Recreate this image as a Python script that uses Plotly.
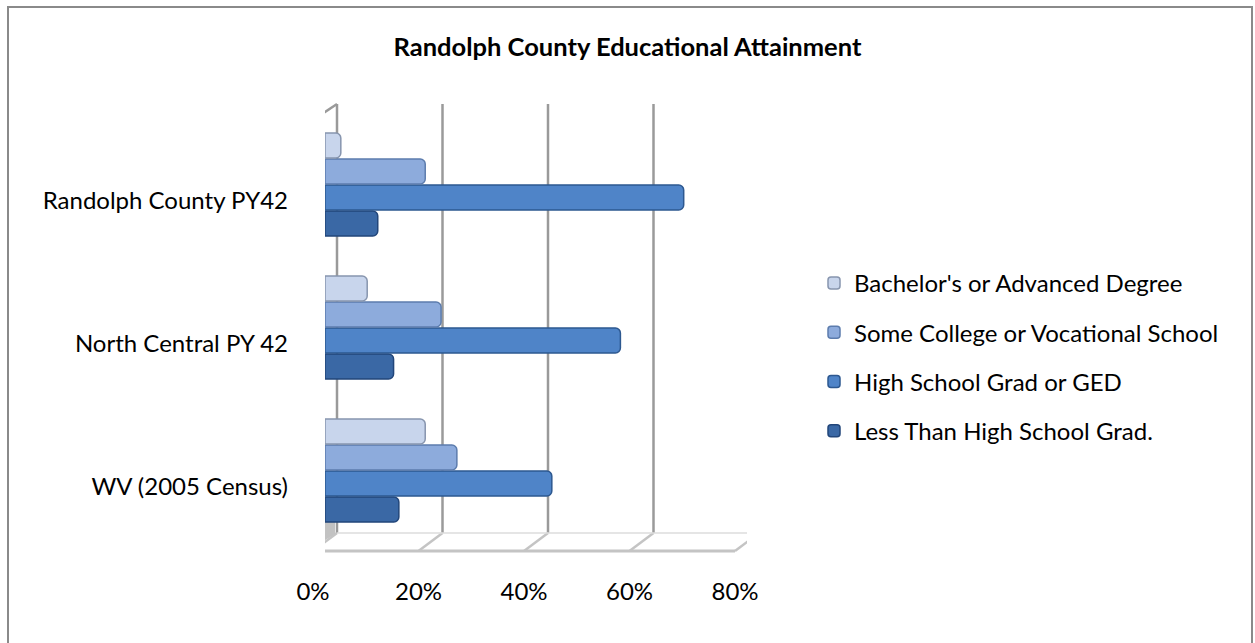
import plotly.graph_objects as go

# Educational attainment shares by area (bottom-to-top category order)
areas = ["WV (2005 Census)", "North Central PY 42", "Randolph County PY42"]
less_than_hs = [0.14, 0.13, 0.10]
hs_grad = [0.43, 0.56, 0.68]
some_college = [0.25, 0.22, 0.19]
bachelors = [0.19, 0.08, 0.03]

tick_vals = [0, 0.2, 0.4, 0.6, 0.8]
tick_text = ["0%", "20%", "40%", "60%", "80%"]

W, H = 1255, 643
FONT = "Lato"
FS = 24


def px_x(p):
    return p / W


def px_y(p):
    return 1 - p / H


# (name, values, fill, edge, legend rank)
series = [
    ("Less Than High School Grad.", less_than_hs, "#3a68a5", "#22467a", 4),
    ("High School Grad or GED", hs_grad, "#4f84c8", "#2d5890", 3),
    ("Some College or Vocational School", some_college, "#8dabdc", "#5c7cad", 2),
    ("Bachelor's or Advanced Degree", bachelors, "#c8d5ec", "#8795ae", 1),
]

fig = go.Figure()
for name, vals, fill, edge, rank in series:
    fig.add_trace(go.Bar(
        y=areas, x=vals, name=name, orientation="h",
        legendgroup=name, legendrank=rank,
        marker=dict(color=fill, line=dict(color=edge, width=1.5), cornerradius=5),
    ))

# depth offset of the back wall, in pixels
D = 12
grid_col = "#9a9a9a"
front_col = "#c4c4c4"
shapes = []
for v in tick_vals:
    # back wall gridline
    shapes.append(dict(type="line", xref="x", xsizemode="pixel", xanchor=v,
                       x0=D, x1=D, yref="paper", y0=px_y(533), y1=px_y(104),
                       line=dict(color=grid_col, width=2.5), layer="below"))
    # floor diagonal
    shapes.append(dict(type="line", xref="x", xsizemode="pixel", xanchor=v,
                       x0=-D, x1=D, yref="paper", y0=px_y(551), y1=px_y(533),
                       line=dict(color=front_col, width=2.5), layer="below"))
# shaded corner of the side wall
shapes.append(dict(type="path", xref="x", xsizemode="pixel", xanchor=0,
                   yref="paper",
                   path=(f"M -11,{px_y(522)} L 10,{px_y(522)} L 10,{px_y(534)} "
                         f"L -11,{px_y(547)} Z"),
                   fillcolor="#c2c2c2", line=dict(width=0), layer="below"))
# back floor edge
shapes.append(dict(type="line", xref="x", xsizemode="pixel", xanchor=0,
                   x0=D, x1=D + 422, yref="paper", y0=px_y(533), y1=px_y(533),
                   line=dict(color="#dcdcdc", width=1.5), layer="below"))
# front floor edge
shapes.append(dict(type="line", xref="x", xsizemode="pixel", xanchor=0,
                   x0=-D, x1=-D + 422, yref="paper", y0=px_y(551), y1=px_y(551),
                   line=dict(color=front_col, width=3), layer="below"))
# left side wall
shapes.append(dict(type="line", xref="x", xsizemode="pixel", xanchor=0,
                   x0=-D, x1=-D, yref="paper", y0=px_y(551), y1=px_y(120),
                   line=dict(color=front_col, width=3), layer="below"))
shapes.append(dict(type="line", xref="x", xsizemode="pixel", xanchor=0,
                   x0=-D, x1=D, yref="paper", y0=px_y(120), y1=px_y(104),
                   line=dict(color=grid_col, width=2.5), layer="below"))
# chart border
shapes.append(dict(type="rect", xref="paper", yref="paper",
                   x0=px_x(8), x1=px_x(1252), y0=-0.05, y1=px_y(7),
                   line=dict(color="#8a8a8a", width=2), layer="below"))

fig.update_layout(
    width=W, height=H,
    margin=dict(l=0, r=0, t=0, b=0, autoexpand=False),
    paper_bgcolor="white", plot_bgcolor="rgba(0,0,0,0)",
    barmode="group", bargap=0.273, bargroupgap=0.04,
    title=dict(text="<b>Randolph County Educational Attainment</b>",
               x=0.5, xanchor="center", y=px_y(47), yanchor="middle",
               automargin=False,
               font=dict(family=FONT, size=25.5, color="black")),
    font=dict(family=FONT, size=FS, color="black"),
    xaxis=dict(domain=[px_x(325), px_x(747)], range=[0, 0.8],
               tickvals=tick_vals, ticktext=tick_text, automargin=False,
               showgrid=False, zeroline=False, showline=False,
               ticklabelshift=-12, ticklabelstandoff=33,
               tickfont=dict(family=FONT, size=FS, color="black")),
    yaxis=dict(domain=[px_y(542), px_y(113)], range=[-0.5, 2.5],
               automargin=False,
               showgrid=False, zeroline=False, showline=False,
               ticklabelshift=16, ticklabelstandoff=36,
               tickfont=dict(family=FONT, size=FS, color="black")),
    legend=dict(x=px_x(814), xanchor="left", y=px_y(357), yanchor="middle",
                traceorder="grouped", tracegroupgap=15,
                font=dict(family=FONT, size=FS, color="black"),
                bgcolor="rgba(0,0,0,0)"),
    shapes=shapes,
    showlegend=True,
)

fig.write_html("out.html")
